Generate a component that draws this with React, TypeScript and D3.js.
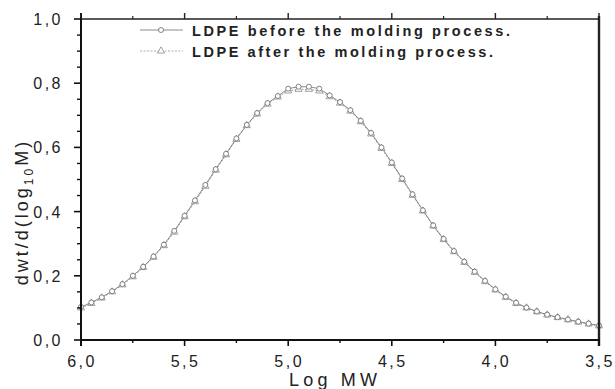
import React from "react";
import * as d3 from "d3";

const logMW = [
  6.0, 5.95, 5.9, 5.85, 5.8, 5.75, 5.7, 5.65, 5.6, 5.55, 5.5, 5.45, 5.4, 5.35,
  5.3, 5.25, 5.2, 5.15, 5.1, 5.05, 5.0, 4.95, 4.9, 4.85, 4.8, 4.75, 4.7, 4.65,
  4.6, 4.55, 4.5, 4.45, 4.4, 4.35, 4.3, 4.25, 4.2, 4.15, 4.1, 4.05, 4.0, 3.95,
  3.9, 3.85, 3.8, 3.75, 3.7, 3.65, 3.6, 3.55, 3.5,
];

const beforeMolding = [
  0.103, 0.117, 0.133, 0.152, 0.174, 0.2, 0.228, 0.26, 0.297, 0.34, 0.387,
  0.435, 0.483, 0.532, 0.58, 0.628, 0.67, 0.707, 0.738, 0.76, 0.783, 0.789,
  0.789, 0.783, 0.762, 0.741, 0.716, 0.683, 0.645, 0.6, 0.553, 0.503, 0.454,
  0.404, 0.357, 0.315, 0.277, 0.244, 0.213, 0.184, 0.158, 0.135, 0.116, 0.101,
  0.089, 0.079, 0.071, 0.064, 0.057, 0.051, 0.045,
];

const afterMolding = [
  0.1, 0.114, 0.131, 0.15, 0.172, 0.197, 0.226, 0.258, 0.294, 0.336, 0.384,
  0.431, 0.479, 0.529, 0.577, 0.625, 0.668, 0.704, 0.735, 0.757, 0.776, 0.781,
  0.781, 0.776, 0.758, 0.738, 0.713, 0.68, 0.642, 0.597, 0.55, 0.5, 0.451,
  0.402, 0.355, 0.313, 0.275, 0.242, 0.211, 0.182, 0.156, 0.133, 0.114, 0.1,
  0.088, 0.078, 0.07, 0.063, 0.056, 0.05, 0.044,
];

const xTicks = [6.0, 5.5, 5.0, 4.5, 4.0, 3.5];
const xMinor = [5.75, 5.25, 4.75, 4.25, 3.75];
const yTicks = [0, 0.2, 0.4, 0.6, 0.8, 1.0];
const yMinor = [
  0.05, 0.1, 0.15, 0.25, 0.3, 0.35, 0.45, 0.5, 0.55, 0.65, 0.7, 0.75, 0.85,
  0.9, 0.95,
];

const legendLabels = [
  "LDPE before the molding process.",
  "LDPE after the molding process.",
];

const W = 615;
const H = 389;
const margin = { top: 19, right: 16, bottom: 49, left: 81 };

const fmt = (v: number) => d3.format(".1f")(v).replace(".", ",");

const triangle = d3.symbol().type(d3.symbolTriangle).size(22);

export default function App() {
  const x = d3
    .scaleLinear()
    .domain([6.0, 3.5])
    .range([margin.left, W - margin.right]);
  const y = d3
    .scaleLinear()
    .domain([0, 1.0])
    .range([H - margin.bottom, margin.top]);

  const pts1 = logMW.map((d, i) => [d, beforeMolding[i]] as [number, number]);
  const pts2 = logMW.map((d, i) => [d, afterMolding[i]] as [number, number]);

  const line = d3
    .line<[number, number]>()
    .x((d) => x(d[0]))
    .y((d) => y(d[1]));

  const x0 = x(6.0);
  const x1 = x(3.5);
  const y0 = y(0);
  const y1 = y(1.0);
  const font = "Arial, 'Liberation Sans', sans-serif";

  return (
    <svg
      width={W}
      height={H}
      style={{ position: "absolute", left: 0, top: 0, background: "#fff" }}
    >
      {/* series */}
      <path
        d={line(pts2) || ""}
        fill="none"
        stroke="#9a9a9a"
        strokeWidth={0.9}
        strokeDasharray="2,1.5"
      />
      <path d={line(pts1) || ""} fill="none" stroke="#6e6e6e" strokeWidth={0.8} />
      {pts2.map((d, i) => (
        <path
          key={"t" + i}
          d={triangle() || ""}
          transform={`translate(${x(d[0])},${y(d[1])})`}
          fill="#fff"
          stroke="#8a8a8a"
          strokeWidth={0.8}
        />
      ))}
      {pts1.map((d, i) => (
        <circle
          key={"c" + i}
          cx={x(d[0])}
          cy={y(d[1])}
          r={2.5}
          fill="#fff"
          stroke="#666"
          strokeWidth={0.8}
        />
      ))}

      {/* frame */}
      <line x1={x0} x2={x1} y1={y1} y2={y1} stroke="#222" strokeWidth={1.6} />
      <line x1={x1} x2={x1} y1={y1 - 3} y2={y0 + 6} stroke="#222" strokeWidth={2.4} />
      <line x1={x0} x2={x1 + 1} y1={y0} y2={y0} stroke="#111" strokeWidth={2} />
      <line x1={x0} x2={x0} y1={y1 - 6} y2={y0 + 6} stroke="#111" strokeWidth={2} />

      {/* bottom axis ticks */}
      {xTicks.map((t) => (
        <g key={"xb" + t}>
          <line x1={x(t)} x2={x(t)} y1={y0} y2={y0 + 6} stroke="#111" strokeWidth={1.6} />
          <line x1={x(t)} x2={x(t)} y1={y1} y2={y1 - 6} stroke="#222" strokeWidth={1.4} />
          <text
            x={x(t) + 1}
            y={y0 + 27}
            textAnchor="middle"
            fontSize={16}
            letterSpacing={2.5}
            fontFamily={font}
            fill="#222"
          >
            {fmt(t)}
          </text>
        </g>
      ))}
      {xMinor.map((t) => (
        <g key={"xm" + t}>
          <line x1={x(t)} x2={x(t)} y1={y0} y2={y0 + 3} stroke="#111" strokeWidth={1.4} />
          <line x1={x(t)} x2={x(t)} y1={y1} y2={y1 - 3} stroke="#222" strokeWidth={1.2} />
        </g>
      ))}

      {/* left axis ticks */}
      {yTicks.map((t) => (
        <g key={"yl" + t}>
          <line x1={x0} x2={x0 - 7} y1={y(t)} y2={y(t)} stroke="#111" strokeWidth={1.6} />
          <text
            x={x0 - 18}
            y={y(t) + 6}
            textAnchor="end"
            fontSize={16}
            letterSpacing={2.5}
            fontFamily={font}
            fill="#222"
          >
            {fmt(t)}
          </text>
        </g>
      ))}
      {yMinor.map((t) => (
        <line
          key={"ym" + t}
          x1={x0}
          x2={x0 - 4}
          y1={y(t)}
          y2={y(t)}
          stroke="#111"
          strokeWidth={1.4}
        />
      ))}

      {/* axis titles */}
      <text
        x={333}
        y={386}
        textAnchor="middle"
        fontSize={18}
        fontFamily={font}
        fill="#222"
        textLength={88}
        lengthAdjust="spacing"
      >
        Log MW
      </text>
      <text
        transform={`translate(28,212) rotate(-90)`}
        textAnchor="middle"
        fontSize={18}
        fontFamily={font}
        fill="#222"
        letterSpacing={3}
      >
        dwt/d(log
        <tspan fontSize={12} dy={5}>
          10
        </tspan>
        <tspan dy={-5}>M)</tspan>
      </text>

      {/* legend */}
      {legendLabels.map((lab, i) => {
        const ly = 30 + i * 21;
        return (
          <g key={"lg" + i}>
            <line
              x1={140}
              x2={183}
              y1={ly}
              y2={ly}
              stroke={i === 0 ? "#6e6e6e" : "#9a9a9a"}
              strokeWidth={0.8}
              strokeDasharray={i === 0 ? "none" : "2,1.5"}
            />
            {i === 0 ? (
              <circle cx={161} cy={ly} r={2.5} fill="#fff" stroke="#666" strokeWidth={0.8} />
            ) : (
              <path
                d={triangle() || ""}
                transform={`translate(161,${ly})`}
                fill="#fff"
                stroke="#8a8a8a"
                strokeWidth={0.8}
              />
            )}
            <text
              x={192}
              y={ly + 6}
              fontSize={14.5}
              fontWeight="bold"
              fontFamily={font}
              fill="#222"
              textLength={i === 0 ? 318 : 301}
              lengthAdjust="spacing"
            >
              {lab}
            </text>
          </g>
        );
      })}
    </svg>
  );
}
